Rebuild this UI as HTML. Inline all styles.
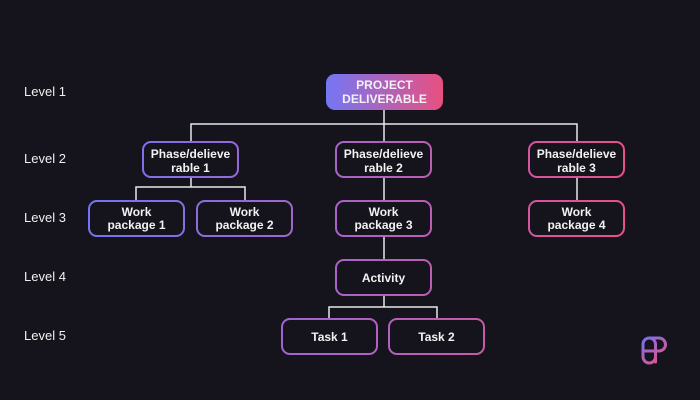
<!DOCTYPE html>
<html><head><meta charset="utf-8"><style>
html,body{margin:0;padding:0;background:#15131c;}
svg{display:block}
text{font-family:"Liberation Sans",sans-serif;font-weight:bold;fill:#f2f2f2;font-size:12px;text-anchor:middle}
.lv{font-weight:normal;font-size:13px;text-anchor:start;fill:#f0f0f0}
</style></head><body>
<svg width="700" height="400" viewBox="0 0 700 400" xmlns="http://www.w3.org/2000/svg">
<defs>
<linearGradient id="g" gradientUnits="userSpaceOnUse" x1="88" y1="0" x2="624" y2="0">
<stop offset="0" stop-color="#7474f4"/><stop offset="0.5" stop-color="#ad62c4"/><stop offset="1" stop-color="#e8508a"/>
</linearGradient>
<linearGradient id="r" x1="0" y1="0" x2="1" y2="0">
<stop offset="0" stop-color="#7476f5"/><stop offset="1" stop-color="#e9507f"/>
</linearGradient>
<linearGradient id="lg" gradientUnits="userSpaceOnUse" x1="642" y1="337" x2="664" y2="363">
<stop offset="0" stop-color="#6f74f2"/><stop offset="1" stop-color="#ec4f80"/>
</linearGradient>
</defs>
<rect width="700" height="400" fill="#15131c"/>
<text class="lv" x="24" y="96">Level 1</text>
<text class="lv" x="24" y="163">Level 2</text>
<text class="lv" x="24" y="222">Level 3</text>
<text class="lv" x="24" y="281">Level 4</text>
<text class="lv" x="24" y="340">Level 5</text>
<g stroke="#e8e8e8" stroke-width="1.5" fill="none">
<path d="M384 110V141M191 141V124H577V141M191 177V187H136V201M191 187H245V201M384 177V201M577 177V201M384 236V260M384 295V307H329V319M384 307H437V319"/>
</g>
<rect x="326" y="74" width="117" height="36" rx="9" fill="url(#r)"/>
<text x="384.5" y="89">PROJECT</text>
<text x="384.5" y="103">DELIVERABLE</text>
<g fill="#15131c" stroke="url(#g)" stroke-width="2">
<rect x="143" y="142" width="95" height="35" rx="8"/>
<rect x="336" y="142" width="95" height="35" rx="8"/>
<rect x="529" y="142" width="95" height="35" rx="8"/>
<rect x="89" y="201" width="95" height="35" rx="8"/>
<rect x="197" y="201" width="95" height="35" rx="8"/>
<rect x="336" y="201" width="95" height="35" rx="8"/>
<rect x="529" y="201" width="95" height="35" rx="8"/>
<rect x="336" y="260" width="95" height="35" rx="8"/>
<rect x="282" y="319" width="95" height="35" rx="8"/>
<rect x="389" y="319" width="95" height="35" rx="8"/>
</g>
<text x="190.5" y="158">Phase/delieve</text><text x="190.5" y="172">rable 1</text>
<text x="383.5" y="158">Phase/delieve</text><text x="383.5" y="172">rable 2</text>
<text x="576.5" y="158">Phase/delieve</text><text x="576.5" y="172">rable 3</text>
<text x="136.5" y="216">Work</text><text x="136.5" y="229">package 1</text>
<text x="244.5" y="216">Work</text><text x="244.5" y="229">package 2</text>
<text x="383.5" y="216">Work</text><text x="383.5" y="229">package 3</text>
<text x="576.5" y="216">Work</text><text x="576.5" y="229">package 4</text>
<text x="383.5" y="282">Activity</text>
<text x="329.5" y="341">Task 1</text>
<text x="436.5" y="341">Task 2</text>
<g fill="none" stroke="url(#lg)" stroke-width="3" stroke-linecap="round">
<rect x="643" y="338" width="12.5" height="25" rx="6.25"/>
<path d="M649.5 338H659A6.5 6.5 0 0 1 659 351H643"/>
<path d="M655.5 351V362"/>
</g>
</svg>
</body></html>
